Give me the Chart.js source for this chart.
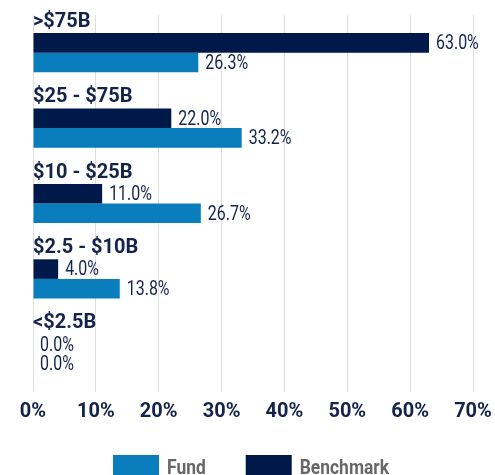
<!DOCTYPE html>
<html>
<head>
<meta charset="utf-8">
<script src="https://cdn.jsdelivr.net/npm/chart.js@4/dist/chart.umd.min.js"></script>
<style>
  html, body { margin: 0; padding: 0; background: #ffffff; overflow: hidden; }
  #box { width: 495px; height: 475px; position: relative; }
</style>
</head>
<body>
<div id="box"><canvas id="c"></canvas></div>
<script>
const categories = ['>$75B', '$25 - $75B', '$10 - $25B', '$2.5 - $10B', '<$2.5B'];
const fundValues = [26.3, 33.2, 26.7, 13.8, 0.0];
const benchmarkValues = [63.0, 22.0, 11.0, 4.0, 0.0];
const tickValues = [0, 10, 20, 30, 40, 50, 60, 70];
const legendOrder = ['Fund', 'Benchmark'];

const NAVY = '#00194b';
const BLUE = '#0a7dbd';
const TEXT = '#13234b';
const LEGEND_TEXT = '#676767';
const SQUEEZE = 0.76;

function drawSqueezed(ctx, text, x, y, k) {
  ctx.save();
  ctx.translate(x, y);
  ctx.scale(k, 1);
  ctx.fillText(text, 0, 0);
  ctx.restore();
}

const labelPlugin = {
  id: 'labelPlugin',
  afterDatasetsDraw(chart) {
    const ctx = chart.ctx;
    const yScale = chart.scales.y;
    const area = chart.chartArea;
    ctx.save();
    // category headers
    ctx.fillStyle = TEXT;
    ctx.textAlign = 'left';
    ctx.textBaseline = 'middle';
    ctx.font = 'bold 20px Roboto, sans-serif';
    categories.forEach((cat, i) => {
      ctx.fillText(cat, area.left, yScale.getPixelForValue(i) - 31);
    });
    // value labels
    ctx.font = '21px Roboto, sans-serif';
    chart.data.datasets.forEach((ds, di) => {
      const meta = chart.getDatasetMeta(di);
      meta.data.forEach((bar, i) => {
        drawSqueezed(ctx, ds.data[i].toFixed(1) + '%', bar.x + 7, bar.y + 1, SQUEEZE);
      });
    });
    ctx.restore();
  },
  afterDraw(chart) {
    // legend (Fund, Benchmark) below the axis
    const ctx = chart.ctx;
    const area = chart.chartArea;
    const k = 0.83;
    const boxW = 46, boxH = 26, gap = 8, spacing = 40;
    ctx.save();
    ctx.font = 'bold 21px Roboto, sans-serif';
    ctx.textBaseline = 'middle';
    ctx.textAlign = 'left';
    const items = legendOrder.map(name => {
      const ds = chart.data.datasets.find(d => d.label === name);
      return { name, color: ds.backgroundColor, w: ctx.measureText(name).width * k };
    });
    const total = items.reduce((s, it) => s + boxW + gap + it.w, 0) + spacing * (items.length - 1);
    let x = (area.left + area.right) / 2 - total / 2 - 2;
    const top = area.bottom + 63;
    items.forEach(it => {
      ctx.fillStyle = it.color;
      ctx.fillRect(x, top, boxW, boxH);
      ctx.fillStyle = LEGEND_TEXT;
      drawSqueezed(ctx, it.name, x + boxW + gap, top + boxH / 2 + 1, k);
      x += boxW + gap + it.w + spacing;
    });
    ctx.restore();
  }
};

new Chart(document.getElementById('c'), {
  type: 'bar',
  data: {
    labels: categories,
    datasets: [
      { label: 'Benchmark', data: benchmarkValues, backgroundColor: NAVY,
        barPercentage: 1, categoryPercentage: 0.52 },
      { label: 'Fund', data: fundValues, backgroundColor: BLUE,
        barPercentage: 1, categoryPercentage: 0.52 }
    ]
  },
  options: {
    indexAxis: 'y',
    responsive: true,
    maintainAspectRatio: false,
    animation: false,
    layout: { padding: { top: 15, left: 33, right: 22, bottom: 57 } },
    scales: {
      x: {
        min: tickValues[0],
        max: tickValues[tickValues.length - 1],
        afterBuildTicks(scale) { scale.ticks = tickValues.map(v => ({ value: v })); },
        afterFit(scale) { scale.height = 26; scale.paddingLeft = 0; scale.paddingRight = 0; },
        grid: { color: '#dedede', lineWidth: 1, drawTicks: false },
        border: { display: false },
        ticks: {
          padding: 8,
          color: TEXT,
          font: { family: 'Roboto, sans-serif', size: 20, weight: 'bold' },
          callback: v => v + '%'
        }
      },
      y: {
        display: false
      }
    },
    plugins: {
      legend: { display: false },
      tooltip: { enabled: false }
    }
  },
  plugins: [labelPlugin]
});
</script>
</body>
</html>
